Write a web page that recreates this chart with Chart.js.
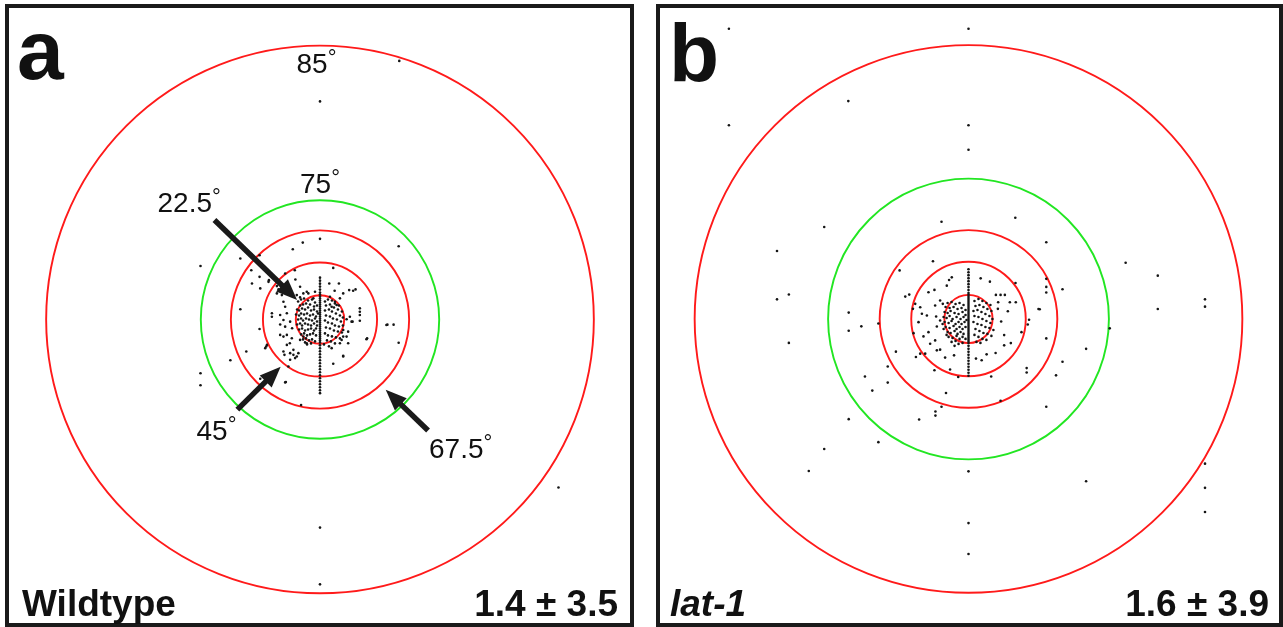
<!DOCTYPE html>
<html><head><meta charset="utf-8">
<script src="https://cdn.jsdelivr.net/npm/chart.js@4/dist/chart.umd.min.js"></script>
<style>
body{margin:0;background:#fff;width:1283px;height:627px;position:relative;overflow:hidden;font-family:"Liberation Sans",Arial,sans-serif;color:#111}
.frame{position:absolute;border:4px solid #1a1a1a;box-sizing:border-box}
.lbl{position:absolute;white-space:nowrap;line-height:1}
.ring{font-size:28px}
.deg{font-size:22px;position:relative;top:-8px}
.big{font-weight:bold;font-size:84px}
.foot{font-weight:bold;font-size:37px}
canvas{position:absolute}
</style></head><body>
<div class="frame" style="left:5px;top:4px;width:629px;height:623px"></div>
<div class="frame" style="left:656px;top:4px;width:627px;height:623px"></div>
<canvas id="ca" width="621" height="615" style="left:9px;top:8px"></canvas>
<canvas id="cb" width="618" height="615" style="left:660px;top:8px"></canvas>

<div class="lbl big" style="left:17px;top:8px">a</div>
<div class="lbl big" style="left:669px;top:12px;font-size:82px">b</div>
<div class="lbl ring" style="left:296.5px;top:50px">85<span class="deg">°</span></div>
<div class="lbl ring" style="left:300px;top:170px">75<span class="deg">°</span></div>
<div class="lbl ring" style="left:157.5px;top:188.5px">22.5<span class="deg">°</span></div>
<div class="lbl ring" style="left:196.5px;top:417px">45<span class="deg">°</span></div>
<div class="lbl ring" style="left:429px;top:435px">67.5<span class="deg">°</span></div>
<div class="lbl foot" style="left:22px;top:584.5px">Wildtype</div>
<div class="lbl foot" style="right:665px;top:584.5px">1.4 ± 3.5</div>
<div class="lbl foot" style="left:670px;top:584.5px;font-style:italic">lat-1</div>
<div class="lbl foot" style="right:14px;top:584.5px">1.6 ± 3.9</div>

<script>
// ---------- ring definitions ----------
const ringDegrees = [22.5, 45, 67.5, 75, 85];
const ringColors = ['#ff1a1a', '#ff1a1a', '#ff1a1a', '#22e622', '#ff1a1a'];
const ringRadiusWT = [24.3, 57.3, 89.5, 119.7, 275];
const ringRadiusLat = [24.2, 57.5, 89.2, 141, 275];

// ---------- Wildtype (panel a) ----------
const wtColumnY = [219, 81, 42, 39, 36, 33, 30, 27, 25, 23, 21, 19, 17, 15, 13, 11, 9, 7, 5, 3, 1, -1, -3, -5, -7, -9, -11, -13, -15, -17, -19, -21, -23, -26, -29, -32, -35, -38, -41, -44, -47, -50, -53, -56, -59, -62, -65, -68, -71, -74, -209, -266];
const wtClusterL = [[-22,18],[-19,20],[-16,21],[-12,19],[-8,20],[-5,17],[-20,14],[-17,15],[-14,16],[-10,15],[-6,13],[-3,14],
 [-23,10],[-21,9],[-18,11],[-15,10],[-12,12],[-9,9],[-6,10],[-3,8],
 [-24,5],[-21,4],[-19,6],[-16,5],[-13,6],[-10,4],[-7,5],[-4,3],[-2,6],
 [-22,0],[-19,1],[-17,-1],[-14,1],[-11,0],[-8,-1],[-5,1],[-3,-2],
 [-23,-5],[-20,-4],[-18,-6],[-15,-4],[-12,-5],[-9,-6],[-6,-4],[-3,-6],
 [-21,-10],[-18,-9],[-15,-11],[-12,-10],[-9,-9],[-6,-11],[-4,-9],
 [-19,-15],[-16,-14],[-13,-16],[-10,-15],[-7,-14],[-4,-16],
 [-17,-20],[-14,-19],[-11,-21],[-8,-20],[-5,-22],[-13,-25],[-9,-24],[-15,-23]];
const wtClusterR = [[5,18],[8,20],[12,19],[15,16],[19,14],[6,14],[10,15],[14,12],[18,10],[22,8],
 [5,9],[9,10],[12,8],[16,6],[20,4],[23,2],[6,4],[10,3],[13,1],[17,0],[21,-2],
 [5,-1],[8,-3],[12,-4],[15,-6],[19,-7],[23,-6],[6,-8],[10,-9],[14,-11],[18,-12],[22,-13],
 [5,-14],[8,-16],[12,-17],[16,-18],[20,-19],[7,-21],[11,-22],[15,-24],[4,-25],[9,-27]];
const wtScatter = [[79.6,259.7],[-120,53.7],[-120,-54],[-120,-66],[239.5,-168.8],[79,73.5],[79,-23.4],[67.7,-5.2],[73.9,-5.2],
 [-19,-86],[-90,-41],[-80,10.3],[-17.3,77.2],[-27.3,70.5],[-80,61.2],[-69,49.5],[-60.7,42.8],[-25.3,49.5],[13.3,51.8],
 [-51.3,39.5],[-24.7,40.2],[-43.3,33.5],[-41.7,30.2],[-33.3,29.5],[-13.3,27.8],[14.7,28.8],[29.3,29.5],[35.7,30.2],
 [10,22.8],[20,21.2],[-23.3,24.5],[-20,22.2],[-48.3,6.2],[-48.3,2.8],[-40,4.5],[-33.3,6.2],[-36.7,-0.5],[-30,-2.2],
 [-35,-7.2],[-60.7,-9.5],[-40,-5],[-28,-8.8],[40,11.2],[40,7.8],[40,4.5],[32.7,-2.2],[26.7,0.2],[30,2.8],[47.3,-18.8],
 [23.3,-17.2],[21.7,-20.5],[-53.3,-25.5],[-55,-28.8],[-74,-32.2],[-30.3,-23.8],[-26.7,-30.5],[-30,-33.8],[-21.7,-33.8],
 [-23.3,-37.2],[-35.7,-35.5],[23.3,-37.2],[13.3,-44.5],[-60,-59.5],[-34.3,-62.8],[-20,-20.5],[-16.7,-17.2],[-13.3,-23.8],
 [-40,-15.5],[-60.7,64.5],[-35,46.2],[-68.3,36.2],[-60,31.2],[-51.7,37.8],[-38.3,24.5],[-20,32.8],[-16.7,26.2],
 [-11.7,26.2],[-5,27.8],[-6.7,21.2],[-43.3,26.2],[-36.7,17.8],[-35,12.8],[9.3,36.2],[19,36.2],[23.3,26.2],[33.3,28.8],
 [15,17.8],[16.7,14.5],[11.7,12.8],[-36.7,-17.2],[-33.3,-15.5],[-54,-27.2],[-33.3,-25.5],[-28.3,-18.8],[-36.7,-32.2],
 [-26.7,-35.5],[-30,-40.5],[-25,-38.8],[-31.7,-47.2],[-35,-63.2],[31.7,-2.2],[40,-1.2],[23.3,-10.5],[28.3,-12.2],
 [26.7,-17.2],[28.3,-23.8],[20,-23.8],[46.7,-19.8],[11.7,-28.8],[23.3,-36.5],[66.7,-5.5]];

// ---------- lat-1 (panel b) ----------
const latColumnY = [291.5, 194.6, 170, 50, 47, 44, 41, 38, 35, 32, 29, 26, 24, 22, 20, 18, 16, 14, 12, 10, 8, 6, 4, 2, 0, -2, -4, -6, -8, -10, -12, -14, -16, -18, -20, -22, -24, -27, -30, -33, -36, -39, -42, -45, -48, -51, -54, -57, -153, -205, -236];
const latClusterL = [[-21,16],[-17,17],[-13,15],[-9,16],[-5,14],[-23,12],[-19,11],[-15,12],[-11,10],[-7,11],[-3,9],
 [-24,7],[-21,6],[-18,8],[-14,6],[-10,5],[-6,7],[-3,4],
 [-25,2],[-22,1],[-19,3],[-16,0],[-12,2],[-8,0],[-5,2],[-2,-1],
 [-24,-3],[-20,-4],[-17,-2],[-13,-5],[-10,-3],[-7,-5],[-4,-3],
 [-23,-8],[-19,-9],[-15,-7],[-12,-10],[-9,-8],[-6,-10],[-3,-8],
 [-21,-13],[-18,-14],[-14,-12],[-11,-15],[-8,-13],[-5,-15],
 [-20,-18],[-16,-19],[-12,-17],[-9,-20],[-6,-18],[-3,-20],
 [-17,-23],[-13,-22],[-10,-25],[-6,-24],[-14,-27],[-22,-16],[-25,-10],[-26,-5]];
const latClusterR = [[6,18],[10,20],[14,18],[18,16],[22,14],[7,13],[11,14],[15,12],[19,10],[23,8],
 [5,8],[9,9],[13,7],[17,5],[21,3],[24,0],[6,3],[10,2],[14,0],[18,-2],[22,-4],
 [5,-3],[9,-5],[13,-6],[17,-8],[21,-9],[25,-11],[7,-10],[11,-12],[15,-14],[19,-15],[23,-17],
 [6,-16],[10,-18],[14,-20],[18,-21],[8,-23],[12,-24]];
const latScatter = [[-240.6,291.5],[-120.7,218.8],[-240.6,194.6],[47,101.7],[-27.1,97.7],[-144.9,92.4],[-192.3,68.2],[78.1,77],
 [157.8,56.5],[190.1,43.5],[-35.7,58],[-69.2,48.8],[-192.3,19.7],[-180.4,24.6],[237.5,19.7],[237.5,12.4],[190.1,10],
 [-120.3,6.4],[-120.3,-11.8],[-107.6,-7.4],[-90.5,-4.5],[-180.4,-24],[141.8,-9.4],[118.1,-30],[94.4,29.8],[78.1,40.3],
 [78.1,32.2],[78.1,26.6],[70.3,10],[78.1,-19.5],[94.4,-42.9],[87.9,-56.6],[58.4,-49.3],[58.4,-53.8],[78.1,-88.1],
 [32.2,-82.1],[-72.9,-32.8],[-81.1,-47.7],[-81.1,-63.9],[-104,-57.8],[-96.6,-71.9],[-22.6,-74.4],[-27.1,-88.1],
 [-33.2,-92.9],[-33.2,-97],[-49.6,-101],[-120.3,-100.6],[-90.5,-123.7],[-144.9,-130.5],[-160.4,-152.7],[118.1,-162.9],
 [237.5,-145.3],[237.5,-169.6],[237.5,-193.8],[22.8,-57.8],[-10.3,-58.2],
 [12.2,40.8],[21.5,37.5],[-16.8,41.8],[-19.5,39.2],[-21.8,33.5],[-34.2,29.2],[-40.2,26.8],[47.2,36.2],[-63.5,22.5],
 [-59.5,24.5],[-48.5,11.8],[-55.8,10.2],[-28.5,18.5],[-25.8,15.2],[27.5,24.2],[32.2,24.2],[36.5,24.2],[29.8,16.8],
 [41.5,16.8],[47.5,16.8],[71.5,9.8],[60.8,-0.8],[59.5,-5.5],[53.2,-13.2],[42.5,-24.2],[35.8,-16.2],[35.8,-26.5],
 [13.2,-41.5],[18.2,-35.5],[27.2,-34.2],[7.5,-39.8],[-18.5,-50.8],[-34.2,-51.5],[-52.8,-38.2],[-48.5,-34.8],
 [-43.5,-34.8],[-31.8,-31.5],[-28.5,-30.8],[-14.5,-36.5],[-23.5,-38.8],[-45.2,-17.5],[-38.5,-24.8],[-33.5,-21.5],
 [-50.2,-3.2],[-55.2,-14.2],[-46.8,5.2],[-41.8,3.5],[-32.5,2.5],[-28.5,-1.5],[-31.8,-7.5],[-40.2,-13.2],
 [-53.5,15.2],[-33.5,13.5],[39.5,7.8],[29.5,10.2],[32.8,-2.5]];

// ---------- annotation arrows for panel a (data units: tail -> tip) ----------
const wtArrows = [
  {from:[-106,100], to:[-23,19.5]},
  {from:[-83,-90.5], to:[-39.5,-47.5]},
  {from:[108.5,-111.5], to:[66,-70.5]}
];

function toXY(pairs){ return pairs.map(p => ({x:p[0], y:p[1]})); }
function column(ys){ return ys.map(v => ({x:0, y:v})); }

function ringPlugin(radii){
  return {
    id:'rings',
    beforeDatasetsDraw(chart){
      const {ctx, scales:{x, y}} = chart;
      const cx = x.getPixelForValue(0), cy = y.getPixelForValue(0);
      radii.forEach((r, i) => {
        const rx = x.getPixelForValue(r) - cx;
        const ry = cy - y.getPixelForValue(r);
        ctx.save();
        ctx.beginPath();
        ctx.ellipse(cx, cy, rx, ry, 0, 0, Math.PI * 2);
        ctx.strokeStyle = ringColors[i];
        ctx.lineWidth = 1.9;
        ctx.stroke();
        ctx.restore();
      });
    }
  };
}

function arrowPlugin(arrows){
  return {
    id:'arrows',
    afterDatasetsDraw(chart){
      const {ctx, scales:{x, y}} = chart;
      arrows.forEach(a => {
        const x1 = x.getPixelForValue(a.from[0]), y1 = y.getPixelForValue(a.from[1]);
        const x2 = x.getPixelForValue(a.to[0]), y2 = y.getPixelForValue(a.to[1]);
        const ang = Math.atan2(y2 - y1, x2 - x1);
        const headLen = 21, headW = 8.5;
        const bx = x2 - headLen * Math.cos(ang), by = y2 - headLen * Math.sin(ang);
        ctx.save();
        ctx.strokeStyle = '#1a1a1a';
        ctx.fillStyle = '#1a1a1a';
        ctx.lineWidth = 5.5;
        ctx.beginPath();
        ctx.moveTo(x1, y1);
        ctx.lineTo(bx + 2 * Math.cos(ang), by + 2 * Math.sin(ang));
        ctx.stroke();
        ctx.beginPath();
        ctx.moveTo(x2, y2);
        ctx.lineTo(bx + headW * Math.sin(ang), by - headW * Math.cos(ang));
        ctx.lineTo(bx - headW * Math.sin(ang), by + headW * Math.cos(ang));
        ctx.closePath();
        ctx.fill();
        ctx.restore();
      });
    }
  };
}

function dotSet(label, data){
  return {label, data, pointRadius:1.3, pointHoverRadius:1.3, pointBackgroundColor:'#151515', pointBorderWidth:0, showLine:false};
}

function makeChart(id, sets, radii, xr, yr, extra){
  return new Chart(document.getElementById(id), {
    type:'scatter',
    data:{datasets:sets},
    options:{
      responsive:false, animation:false, devicePixelRatio:1,
      layout:{padding:0},
      plugins:{legend:{display:false}, tooltip:{enabled:false}},
      events:[],
      scales:{
        x:{type:'linear', min:xr[0], max:xr[1], display:false},
        y:{type:'linear', min:yr[0], max:yr[1], display:false}
      }
    },
    plugins:[ringPlugin(radii)].concat(extra)
  });
}

makeChart('ca', [
  dotSet('Wildtype column', column(wtColumnY)),
  dotSet('Wildtype cluster L', toXY(wtClusterL)),
  dotSet('Wildtype cluster R', toXY(wtClusterR)),
  dotSet('Wildtype scatter', toXY(wtScatter))
], ringRadiusWT, [-311, 310], [-303.5, 311.5], [arrowPlugin(wtArrows)]);

makeChart('cb', [
  dotSet('lat-1 column', column(latColumnY)),
  dotSet('lat-1 cluster L', toXY(latClusterL)),
  dotSet('lat-1 cluster R', toXY(latClusterR)),
  dotSet('lat-1 scatter', toXY(latScatter))
], ringRadiusLat, [-308.5, 309.5], [-304, 311], []);
</script>
</body></html>
